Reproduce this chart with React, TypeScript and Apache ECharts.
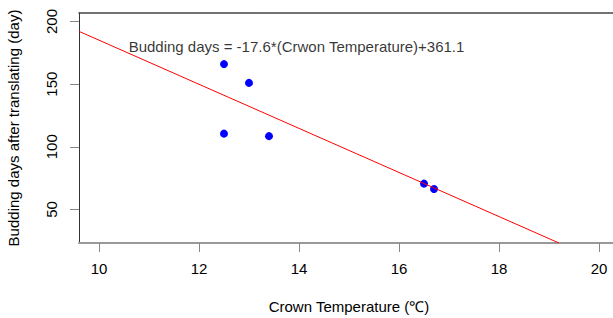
import React, { useEffect, useRef } from "react";
import * as echarts from "echarts";

const temperature = [12.5, 13.0, 12.5, 13.4, 16.5, 16.7];
const buddingDays = [166, 151, 110.5, 108.5, 70.6, 66.3];
const xTicks = [10, 12, 14, 16, 18, 20];
const yTicks = [50, 100, 150, 200];
const slope = -17.6;
const intercept = 361.1;
const equationText = "Budding days = -17.6*(Crwon Temperature)+361.1";
const equationPos = [13.95, 180];
const xRange = [9.6, 20.4];
const yRange = [23.2, 206.8];

export default function App() {
  const ref = useRef<HTMLDivElement>(null);
  useEffect(() => {
    if (!ref.current) return;
    const chart = echarts.init(ref.current, undefined, { renderer: "svg" });
    const xEnd = Math.min(xRange[1], (yRange[0] - intercept) / slope);
    const lineData = [
      [xRange[0], slope * xRange[0] + intercept],
      [xEnd, slope * xEnd + intercept],
    ];
    const font = "Liberation Sans, Arial, sans-serif";
    chart.setOption({
      animation: false,
      grid: {
        left: 79,
        top: 13,
        width: 540,
        height: 230,
        show: false,
        containLabel: false,
        outerBoundsMode: "none",
      },
      xAxis: [
        {
          type: "value",
          min: xRange[0],
          max: xRange[1],
          name: "Crown Temperature (℃)",
          nameLocation: "middle",
          nameGap: 56,
          nameTextStyle: { fontFamily: font, fontSize: 15, color: "#000" },
          splitLine: { show: false },
          axisLine: { show: true, lineStyle: { color: "#999", width: 2 } },
          axisTick: {
            show: true,
            length: 9,
            customValues: xTicks,
            lineStyle: { color: "#888", width: 1 },
          },
          axisLabel: {
            customValues: xTicks,
            margin: 18,
            fontFamily: font,
            fontSize: 15,
            color: "#000",
          },
        },
        {
          type: "value",
          position: "top",
          min: xRange[0],
          max: xRange[1],
          splitLine: { show: false },
          axisLine: { show: true, onZero: false, lineStyle: { color: "#444", width: 1.5 } },
          axisTick: { show: false },
          axisLabel: { show: false },
        },
      ],
      yAxis: {
        type: "value",
        min: yRange[0],
        max: yRange[1],
        name: "Budding days after translating (day)",
        nameLocation: "middle",
        nameGap: 58,
        nameTextStyle: { fontFamily: font, fontSize: 15, color: "#000" },
        splitLine: { show: false },
        axisLine: { show: true, onZero: false, lineStyle: { color: "#333", width: 1 } },
        axisTick: {
          show: true,
          length: 9,
          customValues: yTicks,
          lineStyle: { color: "#888", width: 1 },
        },
        axisLabel: {
          customValues: yTicks,
          rotate: 90,
          margin: 20,
          fontFamily: font,
          fontSize: 15,
          color: "#000",
        },
      },
      series: [
        {
          type: "line",
          data: lineData,
          showSymbol: false,
          symbol: "none",
          lineStyle: { color: "#ff0000", width: 1 },
          silent: true,
        },
        {
          type: "scatter",
          data: temperature.map((t, i) => [t, buddingDays[i]]),
          symbol: "circle",
          symbolSize: 8,
          itemStyle: { color: "#0000ff", opacity: 1 },
        },
        {
          type: "scatter",
          data: [equationPos],
          symbolSize: 0,
          silent: true,
          label: {
            show: true,
            position: "inside",
            formatter: equationText,
            fontFamily: font,
            fontSize: 15,
            color: "#000",
          },
        },
      ],
    });
    return () => chart.dispose();
  }, []);
  return (
    <div
      style={{
        position: "absolute",
        left: 0,
        top: 0,
        width: 613,
        height: 318,
        overflow: "hidden",
        background: "#fff",
      }}
    >
      <div ref={ref} style={{ width: 660, height: 318 }} />
    </div>
  );
}
